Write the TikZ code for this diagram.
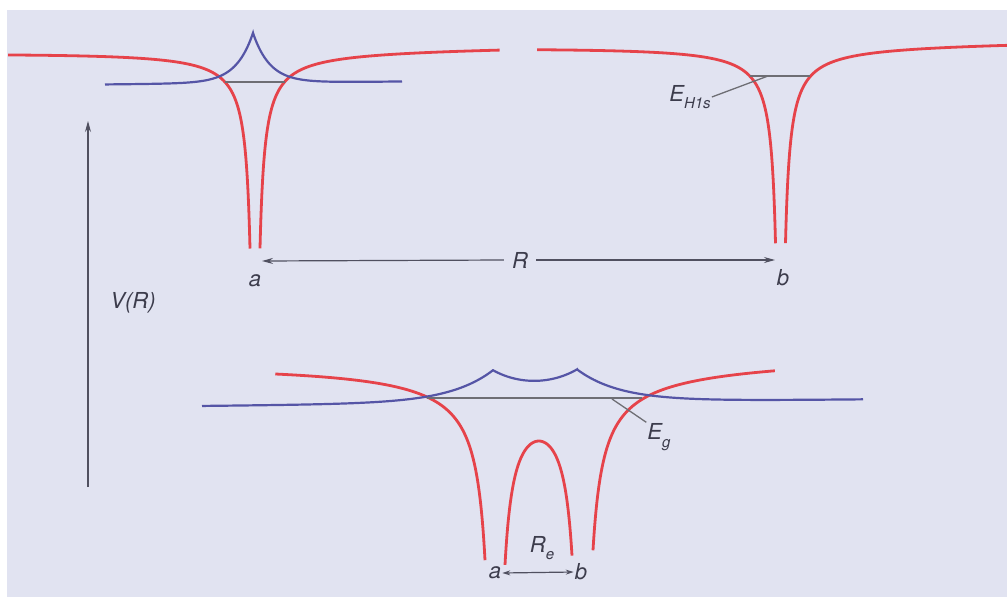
\documentclass[tikz,border=0pt]{standalone}
\usepackage{fontspec}
\setmainfont{TeX Gyre Heros}
\usetikzlibrary{arrows.meta,positioning}
\definecolor{Pc}{HTML}{E6434A}
\definecolor{Wc}{HTML}{5555A6}
\definecolor{Lv}{HTML}{6E6E74}
\definecolor{Ax}{HTML}{505060}
\definecolor{Pg}{HTML}{E1E3F1}
\definecolor{Tx}{HTML}{3C3C4C}
\tikzset{
  pot/.style={Pc, line width=2.8pt},
  wave/.style={Wc, line width=2.2pt},
  lev/.style={Lv, line width=1.5pt},
  lead/.style={Lv, line width=1.3pt},
  axis/.style={Ax, line width=1.2pt, -{Stealth[length=11pt,width=6pt]}},
  sep/.style={Ax, line width=1.2pt, {Stealth[length=8pt,width=5pt]}-{Stealth[length=8pt,width=5pt]}},
  lbl/.style={Tx, font=\fontsize{22}{24}\selectfont\itshape, inner sep=1pt},
}
\newcommand{\lowsub}[1]{\raisebox{-0.35em}{\fontsize{15}{15}\selectfont #1}}

\begin{document}
\begin{tikzpicture}[x=1pt,y=-1pt,
  declare function={tlt(\x)=-0.01*(\x-500);
    vt(\x,\c)=46+tlt(\x)+1000/abs(\x-\c);
    vb(\x)=357.4+tlt(\x)+1838/abs(\x-495)+1838/abs(\x-582.5);
    psit(\x)=80.5+tlt(\x)-50*exp(-abs(\x-253)/17);
    psib(\x)=403+tlt(\x)-28.7*(exp(-abs(\x-493)/43.4)+exp(-abs(\x-577)/43.4));}]
  \useasboundingbox (0,0) rectangle (1007,597);
  \fill[white] (0,0) rectangle (1007,597);
  \fill[Pg] (7,10) rectangle (1007,597);
  % top: atoms far apart
  \draw[pot] plot[variable=\t, domain=1.6094:5.5094, samples=150, smooth] ({255-exp(\t)},{vt(255-exp(\t),255)});
  \draw[pot] plot[variable=\t, domain=1.6094:5.5013, samples=150, smooth] ({255+exp(\t)},{vt(255+exp(\t),255)});
  \draw[pot] plot[variable=\t, domain=1.6094:5.4951, samples=150, smooth] ({780.5-exp(\t)},{vt(780.5-exp(\t),780.5)});
  \draw[pot] plot[variable=\t, domain=1.6094:5.4228, samples=150, smooth] ({780.5+exp(\t)},{vt(780.5+exp(\t),780.5)});
  \draw[wave] plot[domain=105:253, samples=120, smooth] (\x,{psit(\x)})
    -- plot[domain=253:402, samples=120, smooth] (\x,{psit(\x)});
  \coordinate (la0) at (225,82);
  \coordinate (la1) at (285,82);
  \draw[lev] (la0) -- (la1);
  \coordinate (lb0) at (750,76);
  \coordinate (lb1) at (810,76);
  \draw[lev] (lb0) -- (lb1);
  \node[lbl] (eh) at (690,97) {E\lowsub{H1s}};
  \coordinate (ehp) at (768,76);
  \draw[lead] (eh.east) -- (ehp);
  \node[lbl, inner xsep=8pt] (Rt) at (520,260) {R};
  \coordinate (ta) at (262,261);
  \coordinate (tb) at (775,260);
  \draw[axis] (Rt.west) -- (ta);
  \draw[axis] (Rt.east) -- (tb);
  \node[lbl] (at) at (255,281) {a};
  \node[lbl] (bt) at (783,278) {b};
  % axis
  \coordinate (ax0) at (88,487);
  \coordinate (ax1) at (88,121);
  \draw[axis] (ax0) -- (ax1);
  \node[lbl] (vr) at (133,303) {V(R)};
  % bottom: molecule
  \draw[pot] plot[variable=\t, domain=2.3026:5.3936, samples=150, smooth] ({495-exp(\t)},{vb(495-exp(\t))});
  \draw[pot] plot[domain=505:572, samples=160, smooth] (\x,{vb(\x)});
  \draw[pot] plot[variable=\t, domain=2.3514:5.2601, samples=150, smooth] ({582.5+exp(\t)},{vb(582.5+exp(\t))});
  \draw[wave] plot[domain=202:493, samples=150, smooth] (\x,{psib(\x)})
    -- plot[domain=493:577, samples=60, smooth] (\x,{psib(\x)})
    -- plot[domain=577:863, samples=150, smooth] (\x,{psib(\x)});
  \coordinate (lg0) at (427,398);
  \coordinate (lg1) at (642,398);
  \draw[lev] (lg0) -- (lg1);
  \node[lbl] (eg) at (659,437) {E\lowsub{g}};
  \coordinate (egp) at (612,399);
  \draw[lead] (eg.north west) -- (egp);
  \node[lbl] (re) at (542,548) {R\lowsub{e}};
  \node[lbl] (ab) at (495,573) {a};
  \node[lbl] (bb) at (581,572) {b};
  \draw[sep] (ab.east) -- (bb.west);
\end{tikzpicture}
\end{document}
